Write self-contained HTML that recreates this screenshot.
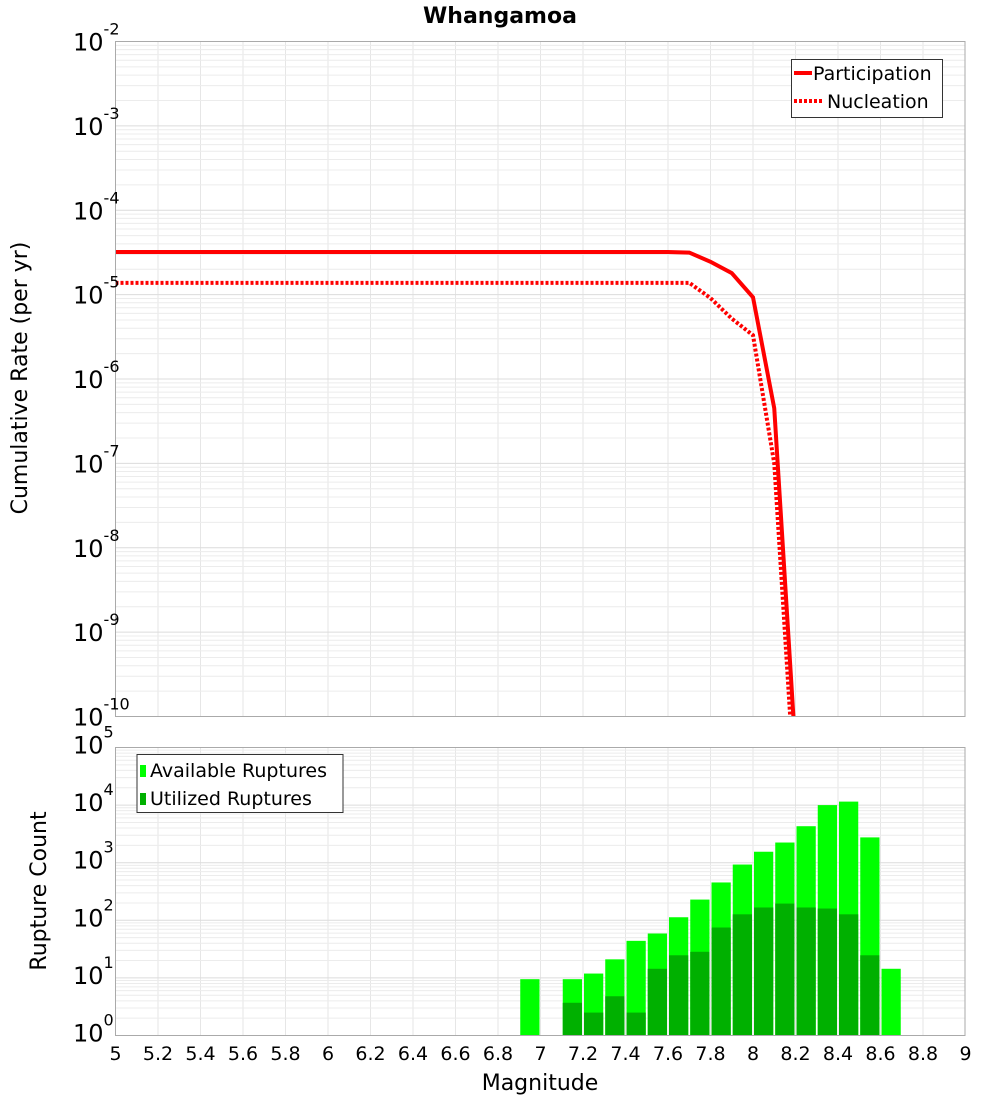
<!DOCTYPE html>
<html><head><meta charset="utf-8"><style>
body{margin:0;background:#fff;}
svg{display:block;font-family:"DejaVu Sans","Liberation Sans",sans-serif;}
</style></head><body>
<svg id="chart" width="1000" height="1100" xmlns="http://www.w3.org/2000/svg">
<text x="500" y="23" text-anchor="middle" font-size="22" font-weight="bold">Whangamoa</text>
<g id="top-grid"></g>
<g id="bot-grid"></g>
<g id="bars"></g>
<defs><clipPath id="clipTop"><rect x="115.5" y="41.5" width="850" height="675"/></clipPath></defs>
<g id="lines" clip-path="url(#clipTop)"></g>
<rect x="115.5" y="41.5" width="849.5" height="675" fill="none" stroke="#aaa"/>
<rect x="115.5" y="747.5" width="849.5" height="288" fill="none" stroke="#aaa"/>
<g id="top-ylabels"></g>
<g id="bot-ylabels"></g>
<g id="xlabels"></g>
<text transform="translate(27,378) rotate(-90)" text-anchor="middle" font-size="22">Cumulative Rate (per yr)</text>
<text transform="translate(46,891) rotate(-90)" text-anchor="middle" font-size="22">Rupture Count</text>
<text x="540" y="1090" text-anchor="middle" font-size="22">Magnitude</text>
<g>
<rect x="791.5" y="59.5" width="151" height="58" fill="#fff" stroke="#333"/>
<line x1="794" y1="73" x2="812" y2="73" stroke="#f00" stroke-width="4"/>
<text x="813" y="80" font-size="19">Participation</text>
<line x1="794" y1="101" x2="822" y2="101" stroke="#f00" stroke-width="4" stroke-dasharray="3,2"/>
<text x="827" y="108" font-size="19">Nucleation</text>
</g>
<g>
<rect x="137" y="754.5" width="206" height="58" fill="#fff" stroke="#333"/>
<rect x="140" y="765" width="6" height="12" fill="#00ff00"/>
<text x="150" y="777" font-size="19">Available Ruptures</text>
<rect x="140" y="793" width="6" height="12" fill="#00b000"/>
<text x="150" y="805" font-size="19">Utilized Ruptures</text>
</g>
</svg>
<script>
const lineMags = [5.0,5.1,5.2,5.3,5.4,5.5,5.6,5.7,5.8,5.9,6.0,6.1,6.2,6.3,6.4,6.5,6.6,6.7,6.8,6.9,7.0,7.1,7.2,7.3,7.4,7.5,7.6,7.7,7.8,7.9,8.0,8.1,8.2];
const participation = [3.2e-5,3.2e-5,3.2e-5,3.2e-5,3.2e-5,3.2e-5,3.2e-5,3.2e-5,3.2e-5,3.2e-5,3.2e-5,3.2e-5,3.2e-5,3.2e-5,3.2e-5,3.2e-5,3.2e-5,3.2e-5,3.2e-5,3.2e-5,3.2e-5,3.2e-5,3.2e-5,3.2e-5,3.2e-5,3.2e-5,3.2e-5,3.15e-5,2.45e-5,1.8e-5,9.3e-6,4.5e-7,4e-11];
const nucleation = [1.38e-5,1.38e-5,1.38e-5,1.38e-5,1.38e-5,1.38e-5,1.38e-5,1.38e-5,1.38e-5,1.38e-5,1.38e-5,1.38e-5,1.38e-5,1.38e-5,1.38e-5,1.38e-5,1.38e-5,1.38e-5,1.38e-5,1.38e-5,1.38e-5,1.38e-5,1.38e-5,1.38e-5,1.38e-5,1.38e-5,1.38e-5,1.38e-5,9.1e-6,5.2e-6,3.3e-6,1e-7,1e-11];
const barMags = [6.9,7.1,7.2,7.3,7.4,7.5,7.6,7.7,7.8,7.9,8.0,8.1,8.2,8.3,8.4,8.5,8.6];
const available = [9.5,9.5,11.9,21,44,59,113,229,454,929,1550,2240,4300,10000,11500,2750,14.4];
const utilized = [0,3.7,2.5,4.8,2.5,14.4,24.7,28.4,75,127,167,195,167,160,127,24.7,0];
const xTicks = ["5","5.2","5.4","5.6","5.8","6","6.2","6.4","6.6","6.8","7","7.2","7.4","7.6","7.8","8","8.2","8.4","8.6","8.8","9"];
const topExps = [-2,-3,-4,-5,-6,-7,-8,-9,-10];
const botExps = [5,4,3,2,1,0];

const NS="http://www.w3.org/2000/svg";
const X = m => 115.5 + (m-5)*212.5;
const YT = v => 41.5 + (-2 - Math.log10(v))*84.375;
const YB = v => 1035.5 - Math.log10(v)*57.6;
function mk(tag, attrs, parent){const e=document.createElementNS(NS,tag);for(const k in attrs)e.setAttribute(k,attrs[k]);parent.appendChild(e);return e;}
const tg=document.getElementById('top-grid'), bg=document.getElementById('bot-grid');
// vertical grid
for(let i=1;i<20;i++){const x=X(5+i*0.2);
 let l=mk('line',{x1:x,x2:x,y1:41.5,y2:716.5,stroke:'#e6e6e6'},tg);
 
 
 l=mk('line',{x1:x,x2:x,y1:747.5,y2:1035.5,stroke:'#e6e6e6'},bg);
 
 }
for(let e=-10;e<-2;e++){for(let k=1;k<10;k++){const y=YT(k*Math.pow(10,e));
 const l=mk('line',{x1:115.5,x2:965,y1:y,y2:y,stroke:k==1?'#dcdcdc':'#ececec'},tg);
 
 }}
for(let e=0;e<5;e++){for(let k=1;k<10;k++){const y=YB(k*Math.pow(10,e));
 const l=mk('line',{x1:115.5,x2:965,y1:y,y2:y,stroke:k==1?'#dcdcdc':'#ececec'},bg);
 
 }}
// bars
const bars=document.getElementById('bars');
barMags.forEach((m,i)=>{const x0=X(m)+1,w=X(m+0.1)-X(m)-2;
 if(available[i]>0){const r=mk('rect',{x:x0,y:YB(available[i]),width:w,height:1035.5-YB(available[i]),fill:'#00ff00'},bars);
 
 }
 if(utilized[i]>0){const r=mk('rect',{x:x0,y:YB(utilized[i]),width:w,height:1035.5-YB(utilized[i]),fill:'#00b000'},bars);
 
 }
});
// lines
const lg=document.getElementById('lines');
const pp=lineMags.map((m,i)=>X(m)+','+YT(participation[i])).join(' ');
const np=lineMags.map((m,i)=>X(m)+','+YT(nucleation[i])).join(' ');
const pl=mk('polyline',{points:pp,fill:'none',stroke:'#f00','stroke-width':4},lg);


const nl=mk('polyline',{points:np,fill:'none',stroke:'#f00','stroke-width':4,'stroke-dasharray':'3,2'},lg);


// labels
function powLabel(parent,y,exp,name){const t=mk('text',{x:73,y:y+9,'font-size':24},parent);
 
 
 t.appendChild(document.createTextNode('10'));
 const s=mk('tspan',{dy:-16,'font-size':16},t);s.textContent=String(exp);}
const tyl=document.getElementById('top-ylabels');
topExps.forEach(e=>powLabel(tyl,YT(Math.pow(10,e)),e,'top-y-tick-label'));
const byl=document.getElementById('bot-ylabels');
botExps.forEach(e=>powLabel(byl,YB(Math.pow(10,e))-3,e,'bottom-y-tick-label'));
const xl=document.getElementById('xlabels');
xTicks.forEach(s=>{const t=mk('text',{x:X(parseFloat(s)),y:1060,'font-size':19,'text-anchor':'middle'},xl);
 
 
 t.textContent=s;});
</script>
</body></html>
